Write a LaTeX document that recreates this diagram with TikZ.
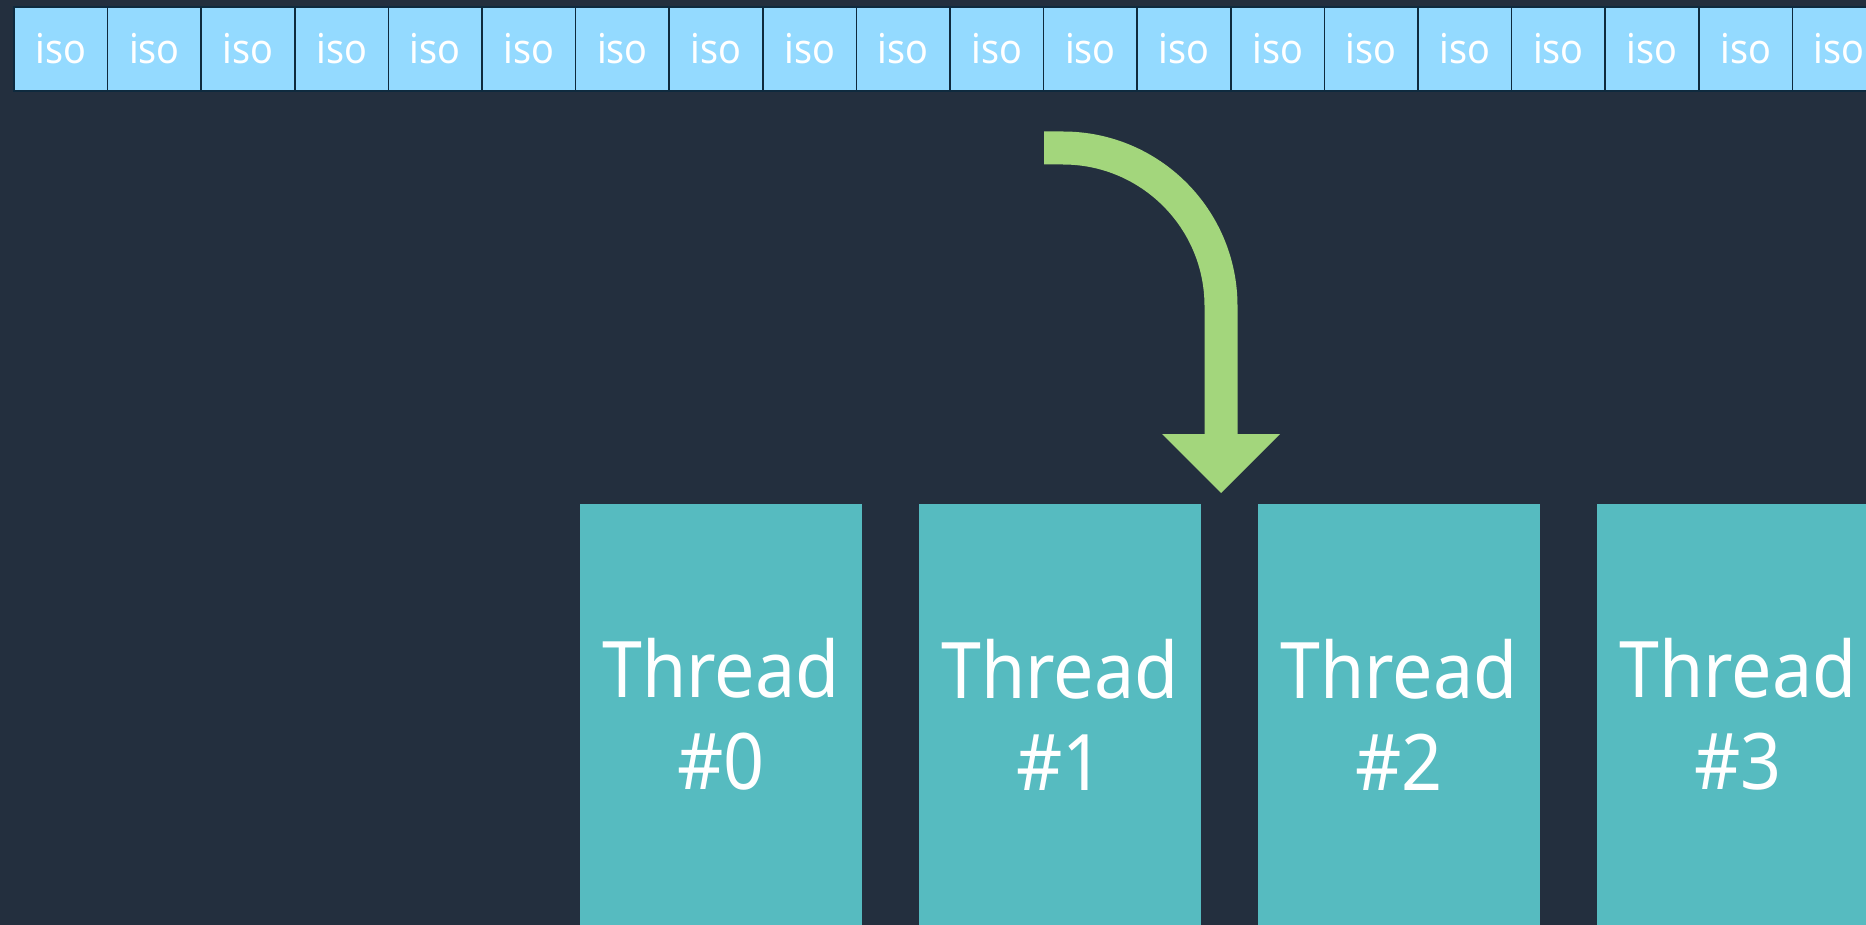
\documentclass[tikz,border=0pt]{standalone}
\usepackage{fontspec}
\setmainfont{Noto Sans}[FakeStretch=0.92]
\definecolor{bgc}{HTML}{232F3E}
\definecolor{isofill}{HTML}{94DAFF}
\definecolor{isoline}{HTML}{0E2A3E}
\definecolor{thrfill}{HTML}{56BBC0}
\definecolor{arrc}{HTML}{A3D67C}
\tikzset{
  isocell/.style={rectangle, draw=isoline, line width=1.6pt, fill=isofill,
    minimum width=93.6pt, minimum height=84pt, inner sep=0pt, text=white,
    font=\fontsize{41}{46}\selectfont},
  thrbox/.style={rectangle, fill=thrfill, minimum width=282pt, minimum height=421pt,
    inner sep=0pt, text=white, align=center,
    font=\fontsize{78}{92}\selectfont},
  arrowline/.style={draw=arrc, line width=33pt, line cap=butt},
}
\begin{document}
\begin{tikzpicture}[x=1pt,y=-1pt]
\useasboundingbox (0,0) rectangle (1866,925);
\clip (0,0) rectangle (1866,925);
\fill[bgc] (0,0) rectangle (1866,925);
\foreach \i in {0,...,19} {
  \node[isocell] (iso\i) at ({14+46.8+93.6*\i},49) {iso};
}
\foreach \i in {0,...,3} {
  \node[thrbox] (t\i) at ({580+141+339*\i},714.5) {Thread\\\#\i};
}
\coordinate (a0) at (1044,148);
\coordinate (a1) at (1221,435);
\coordinate (tip) at (1221,493);
\draw[arrowline] (a0) -- ++(19,0) arc[start angle=-90,end angle=0,radius=158] -- (a1);
\fill[arrc] (1162,434) -- (1280,434) -- (tip) -- cycle;
\end{tikzpicture}
\end{document}
